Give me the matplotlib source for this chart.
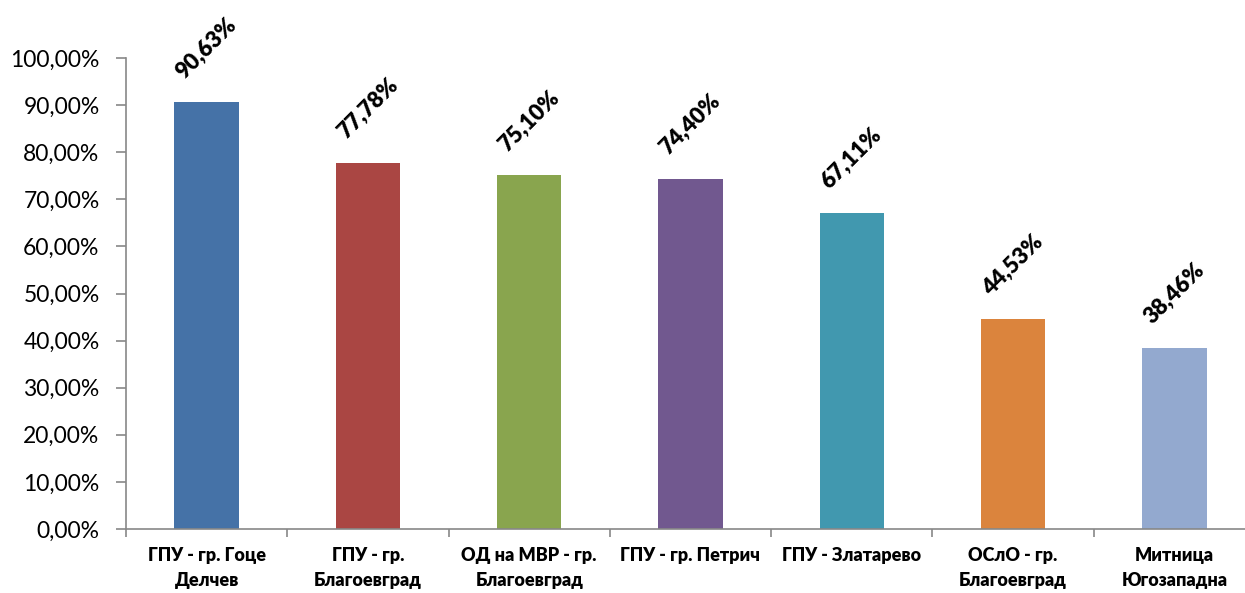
import matplotlib
matplotlib.use("Agg")
import matplotlib.pyplot as plt
from matplotlib.ticker import FuncFormatter, MultipleLocator, FixedLocator

categories = ["ГПУ - гр. Гоце\nДелчев", "ГПУ - гр.\nБлагоевград", "ОД на МВР - гр.\nБлагоевград",
              "ГПУ - гр. Петрич", "ГПУ - Златарево", "ОСлО - гр.\nБлагоевград", "Митница\nЮгозападна"]
values = [90.63, 77.78, 75.10, 74.40, 67.11, 44.53, 38.46]
colors = ["#4572A7", "#AA4643", "#89A54E", "#71588F", "#4198AF", "#DB843D", "#93A9CF"]

plt.rcParams['font.family'] = ['Lato', 'DejaVu Sans']

W, H = 1245, 593
fig = plt.figure(figsize=(W/100, H/100), dpi=100)
ax = fig.add_axes([126/W, (H-529)/H, (1255-126)/W, (529-58)/H])

x = list(range(len(values)))
ax.bar(x, values, width=0.40, color=colors, zorder=2)
ax.set_xlim(-0.5, len(values) - 0.5)
ax.set_ylim(0, 100)

ax.yaxis.set_major_locator(MultipleLocator(10))
ax.yaxis.set_major_formatter(FuncFormatter(lambda v, p: f"{v:.2f}".replace(".", ",") + "%"))
ax.set_xticks(x)
ax.set_xticklabels(categories, fontsize=13, fontweight='heavy', linespacing=1.55)
ax.xaxis.set_minor_locator(FixedLocator([i - 0.5 for i in range(len(values) + 1)]))
ax.tick_params(axis='x', which='major', length=0, pad=13)
ax.tick_params(axis='x', which='minor', length=6, color='#888888', width=1.2)
ax.tick_params(axis='y', length=7, color='#888888', width=1.2, labelsize=16.5, pad=12)

for s in ['top', 'right']:
    ax.spines[s].set_visible(False)
for s in ['left', 'bottom']:
    ax.spines[s].set_color('#888888')
    ax.spines[s].set_linewidth(1.2)

for xi, v in zip(x, values):
    ax.annotate(f"{v:.2f}".replace(".", ",") + "%", (xi, v), xytext=(0, 39),
                textcoords='offset points', rotation=45, ha='center', va='center',
                fontsize=16, fontweight='heavy', annotation_clip=False)

fig.savefig("out.png", dpi=100)
